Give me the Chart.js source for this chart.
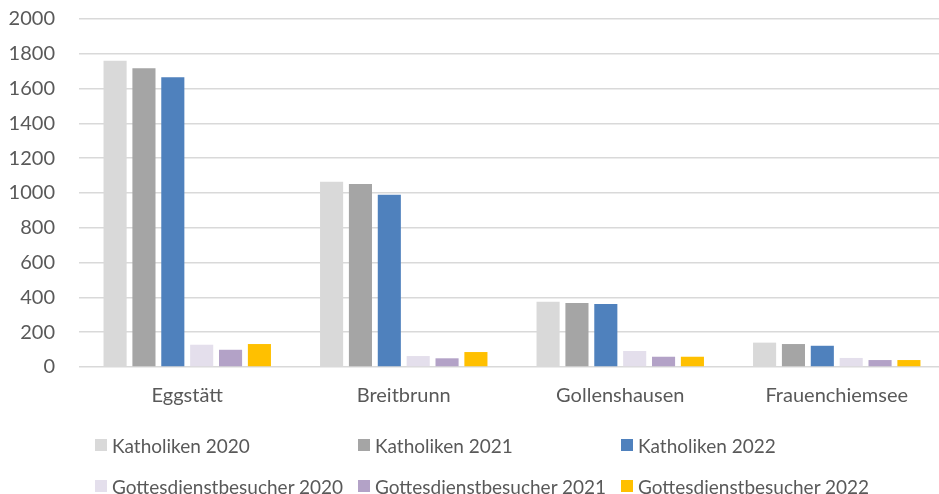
<!DOCTYPE html>
<html>
<head>
<meta charset="utf-8">
<script src="https://cdn.jsdelivr.net/npm/chart.js@4"></script>
<style>
  html, body { margin: 0; padding: 0; background: #fff; overflow: hidden; }
  #wrap { position: relative; width: 945px; height: 494px; }
  #legend { position: absolute; left: 0; top: 0; width: 939px; height: 494px; pointer-events: none;
            font-family: Lato, "Open Sans", sans-serif; font-size: 19px; color: #595959; }
  .item { position: absolute; display: flex; align-items: center; white-space: nowrap; height: 24px; }
  .box { width: 12px; height: 12px; margin-right: 5px; flex: none; }
</style>
</head>
<body>
<div id="wrap">
  <canvas id="c" width="945" height="494"></canvas>
  <div id="legend"></div>
</div>
<script>
const categories = ["Eggstätt", "Breitbrunn", "Gollenshausen", "Frauenchiemsee"];
const seriesNames = ["Katholiken 2020", "Katholiken 2021", "Katholiken 2022",
                     "Gottesdienstbesucher 2020", "Gottesdienstbesucher 2021", "Gottesdienstbesucher 2022"];
const katholiken2020 = [1760, 1065, 375, 140];
const katholiken2021 = [1717, 1052, 368, 132];
const katholiken2022 = [1665, 990, 362, 122];
const gottesdienst2020 = [128, 63, 92, 52];
const gottesdienst2021 = [99, 50, 59, 40];
const gottesdienst2022 = [132, 86, 59, 40];
const yTicks = [0, 200, 400, 600, 800, 1000, 1200, 1400, 1600, 1800, 2000];

const colors = ["#d9d9d9", "#a5a5a5", "#4f81bd", "#e4dfec", "#b3a2c7", "#ffc000"];
const values = [katholiken2020, katholiken2021, katholiken2022, gottesdienst2020, gottesdienst2021, gottesdienst2022];

const FONT = "Lato, 'Open Sans', sans-serif";
const chart = new Chart(document.getElementById("c"), {
  type: "bar",
  data: {
    labels: categories,
    datasets: seriesNames.map((n, i) => ({
      label: n,
      data: values[i],
      backgroundColor: colors[i],
      borderWidth: 0,
      categoryPercentage: 0.8,
      barPercentage: 0.8
    }))
  },
  options: {
    responsive: false,
    animation: false,
    devicePixelRatio: 1,
    layout: { padding: { left: 0, right: 0, top: 19, bottom: 0 } },
    plugins: { legend: { display: false }, tooltip: { enabled: false } },
    scales: {
      x: {
        afterFit: (s) => { s.height = 127; s.paddingLeft = 0; s.paddingRight = 0; },
        grid: { display: false, drawTicks: false },
        border: { display: false },
        ticks: { color: "#595959", font: { family: FONT, size: 20 }, padding: 17, maxRotation: 0 }
      },
      y: {
        min: 0, max: 2000,
        afterBuildTicks: (s) => { s.ticks = yTicks.map(v => ({ value: v })); },
        afterFit: (s) => { s.width = 79; s.paddingTop = 0; s.paddingBottom = 0; },
        grid: { color: "#d9d9d9", lineWidth: 1.5, drawTicks: false },
        border: { display: false },
        ticks: { color: "#595959", font: { family: FONT, size: 20 }, padding: 24,
                 callback: (v) => String(v) }
      }
    }
  }
});

const leg = document.getElementById("legend");
const colX = [95, 358, 621];
const rowY = [433, 474];
seriesNames.forEach((n, i) => {
  const d = document.createElement("div");
  d.className = "item";
  d.style.left = colX[i % 3] + "px";
  d.style.top = rowY[Math.floor(i / 3)] + "px";
  d.innerHTML = '<span class="box" style="background:' + colors[i] + '"></span><span>' + n + '</span>';
  leg.appendChild(d);
});
</script>
</body>
</html>
